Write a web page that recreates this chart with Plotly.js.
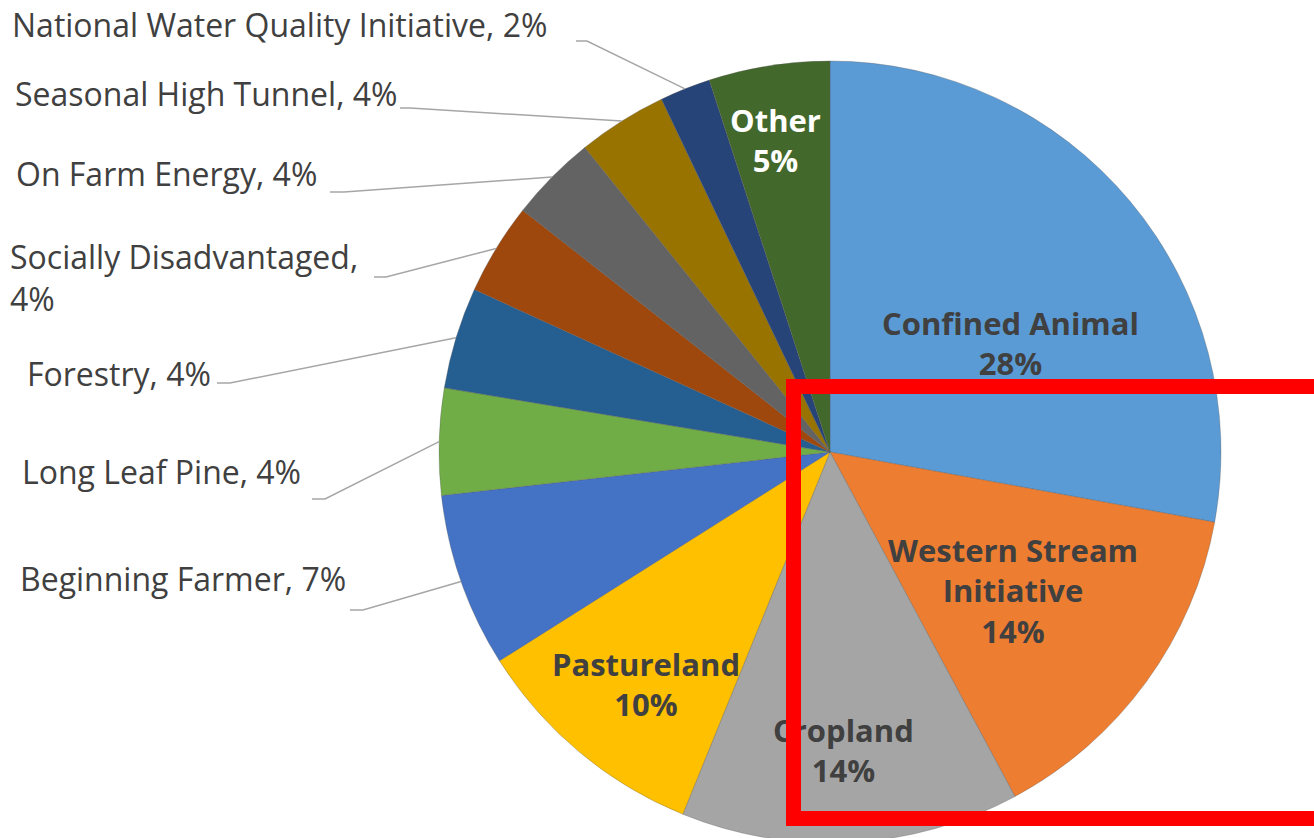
<!DOCTYPE html>
<html><head><meta charset="utf-8">
<script src="https://cdn.plot.ly/plotly-3.0.1.min.js"></script>
<style>html,body{margin:0;padding:0;overflow:hidden;background:#fff}#chart{width:1314px;height:846px}</style>
</head><body><div id="chart"></div>
<script>
// ---- data ----
const categories = ["Confined Animal","Western Stream Initiative","Cropland","Pastureland","Beginning Farmer","Long Leaf Pine","Forestry","Socially Disadvantaged","On Farm Energy","Seasonal High Tunnel","National Water Quality Initiative","Other"];
const shares = [27.9,14.3,14.0,9.9,7.2,4.4,4.2,3.8,3.6,3.7,2.1,5.0];
const sliceColors = ["#5B9BD5","#ED7D31","#A5A5A5","#FFC000","#4472C4","#70AD47","#255E91","#9E480E","#636363","#997300","#264478","#43682B"];

// ---- layout geometry ----
const W = 1314, H = 846;
const CX = 830, CY = 452, R = 391;
const px2x = p => p / W;
const py2y = p => 1 - p / H;

const total = shares.reduce((a, b) => a + b, 0);
const pct = i => Math.round(shares[i] / total * 100);
function midAngle(i) {
  let s = 0; for (let k = 0; k < i; k++) s += shares[k];
  return (s + shares[i] / 2) / total * 2 * Math.PI;
}

const FONT = "'Open Sans', Lato, sans-serif";

// inside label placement: slice index, centre (px), words on first line, colour
const insideLabels = [
  {i: 0, x: 1010, y: 343, split: 2, color: "#404040"},
  {i: 1, x: 1013, y: 590, split: 2, color: "#404040"},
  {i: 2, x: 843, y: 750, split: 1, color: "#404040"},
  {i: 3, x: 646, y: 684, split: 1, color: "#404040"},
  {i: 11, x: 775, y: 140, split: 1, color: "#FFFFFF"}
];
// outside label placement: slice index, text left/centre (px), leader start/elbow (px)
const outsideLabels = [
  {i: 10, x: 10, y: 24, lx0: 576, lx1: 587, ly: 41, wrap: false},
  {i: 9, x: 13, y: 93, lx0: 400, lx1: 410, ly: 108, wrap: false},
  {i: 8, x: 14, y: 174, lx0: 330, lx1: 344, ly: 192, wrap: false},
  {i: 7, x: 8, y: 278, lx0: 374, lx1: 386, ly: 277, wrap: true},
  {i: 6, x: 25, y: 373, lx0: 217, lx1: 230, ly: 383, wrap: false},
  {i: 5, x: 20, y: 471, lx0: 312, lx1: 325, ly: 499, wrap: false},
  {i: 4, x: 18, y: 578, lx0: 350, lx1: 363, ly: 610, wrap: false}
];

const annotations = [];
const shapes = [];

insideLabels.forEach(L => {
  const words = categories[L.i].split(" ");
  const first = words.slice(0, L.split).join(" ");
  const rest = words.slice(L.split).join(" ");
  const txt = "<b>" + first + (rest ? "<br>" + rest : "") + "<br>" + pct(L.i) + "%</b>";
  annotations.push({
    xref: "paper", yref: "paper", x: px2x(L.x), y: py2y(L.y),
    xanchor: "center", yanchor: "middle", showarrow: false, align: "center",
    text: txt, font: {family: FONT, size: 31, color: L.color}
  });
});

outsideLabels.forEach(L => {
  const txt = categories[L.i] + "," + (L.wrap ? "<br>" : " ") + pct(L.i) + "%";
  annotations.push({
    xref: "paper", yref: "paper", x: px2x(L.x), y: py2y(L.y),
    xanchor: "left", yanchor: "middle", showarrow: false, align: "left",
    text: txt, font: {family: FONT, size: 32, color: "#404040"}
  });
  const a = midAngle(L.i);
  const ex = CX + R * Math.sin(a), ey = CY - R * Math.cos(a);
  shapes.push({
    type: "path", xref: "paper", yref: "paper", layer: "above",
    path: `M ${px2x(L.lx0)},${py2y(L.ly)} L ${px2x(L.lx1)},${py2y(L.ly)} L ${px2x(ex)},${py2y(ey)}`,
    line: {color: "#A6A6A6", width: 1.5}
  });
});

// red highlight box (drawn last so it sits on top of the labels)
const boxOuter = {left: 786, top: 379, bottom: 826, right: 1345}, bw = 15;
annotations.push({
  xref: "paper", yref: "paper", x: px2x(boxOuter.left), y: py2y(boxOuter.top),
  xanchor: "left", yanchor: "top", showarrow: false, text: " ",
  width: boxOuter.right - boxOuter.left - 2 * bw, height: boxOuter.bottom - boxOuter.top - 2 * bw,
  borderwidth: bw, borderpad: 0, bordercolor: "#FF0000", bgcolor: "rgba(0,0,0,0)"
});

const trace = {
  type: "pie", labels: categories, values: shares, sort: false,
  direction: "clockwise", rotation: 0, textinfo: "none", hoverinfo: "none",
  marker: {colors: sliceColors, line: {color: "rgba(90,90,90,0.55)", width: 0.6}},
  domain: {x: [px2x(CX - R), px2x(CX + R)], y: [py2y(CY + R), py2y(CY - R)]},
  showlegend: false
};

Plotly.newPlot("chart", [trace], {
  width: W, height: H, margin: {l: 0, r: 0, t: 0, b: 0, pad: 0},
  paper_bgcolor: "#FFFFFF", showlegend: false,
  annotations: annotations, shapes: shapes
}, {staticPlot: true, displayModeBar: false});
</script>
</body></html>
